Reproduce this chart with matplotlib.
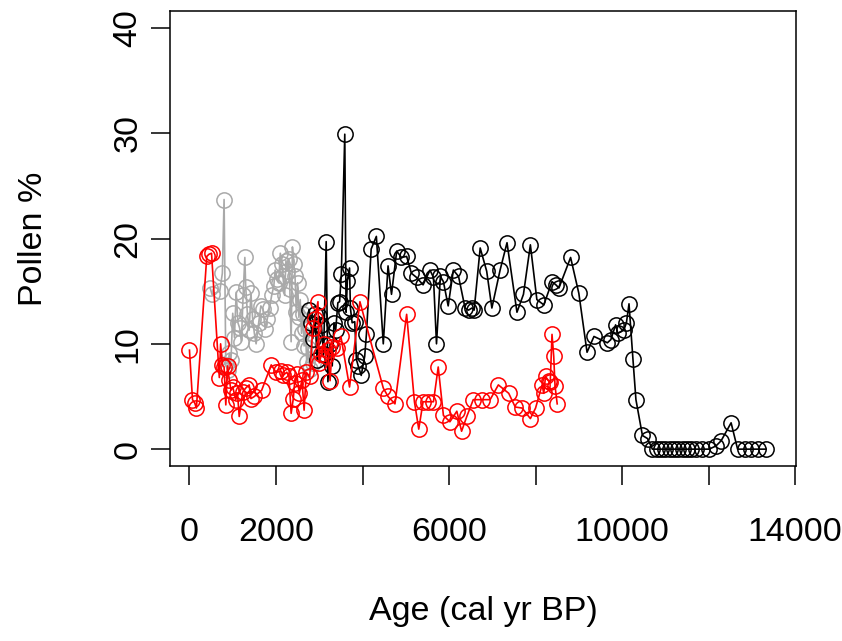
import numpy as np
import matplotlib
matplotlib.use("Agg")
import matplotlib.pyplot as plt

plt.rcParams['font.family'] = ['Liberation Sans', 'DejaVu Sans']

# Record 1 (black): long core
black_age = [2760, 2800, 2850, 2900, 2950, 3000, 3050, 3100, 3160, 3200,
             3250, 3300, 3340, 3380, 3430, 3470, 3510, 3590, 3620,
             3650, 3700, 3720, 3760, 3820, 3860, 3900, 3970, 4050, 4090,
             4200, 4320, 4480, 4590, 4670, 4790, 4900, 5020, 5130, 5250,
             5400, 5560, 5640, 5710, 5800, 5870, 5980, 6100, 6220, 6370,
             6450, 6530, 6580, 6720, 6870, 6990, 7180, 7340, 7570, 7720,
             7880, 8030, 8190, 8380, 8470, 8540, 8810, 9000, 9190, 9350,
             9660, 9740, 9850, 9900, 10040, 10100, 10160, 10250, 10320, 10470,
             10590, 10700, 10800, 10900, 11000, 11100, 11200, 11300, 11400, 11500,
             11600, 11700, 11850, 12010, 12170, 12290, 12520, 12670, 12830, 12980,
             13140, 13330]
black_pct = [13.2, 12.0, 10.5, 12.8, 8.5, 12.6, 11.8, 9.0, 19.7, 6.4,
             10.0, 7.9, 12.0, 11.3, 13.9, 14.0, 16.6, 29.9, 13.0,
             16.0, 17.2, 13.4, 12.0, 12.1, 8.5, 7.9, 7.0, 8.8, 10.9,
             19.0, 20.2, 10.0, 17.4, 14.7, 18.8, 18.2, 18.3, 16.7, 16.3,
             15.6, 17.0, 16.3, 10.0, 16.4, 15.9, 13.6, 17.0, 16.4, 13.4,
             13.2, 13.4, 13.2, 19.1, 16.9, 13.4, 17.0, 19.6, 13.0, 14.7,
             19.4, 14.2, 13.7, 15.9, 15.6, 15.3, 18.2, 14.8, 9.2, 10.7,
             10.1, 10.4, 11.8, 11.0, 11.3, 12.0, 13.8, 8.6, 4.7, 1.3,
             1.0, 0, 0, 0, 0, 0, 0, 0, 0, 0,
             0, 0, 0, 0, 0.3, 0.8, 2.5, 0, 0, 0,
             0, 0]

# Record 2 (grey): short, dense core
grey_age = [480, 520, 700, 760, 800, 840, 880, 920, 960, 1000,
            1040, 1080, 1120, 1160, 1200, 1240, 1280, 1300, 1340, 1380,
            1420, 1460, 1500, 1540, 1600, 1650, 1700, 1750, 1800, 1850,
            1900, 1950, 1980, 2020, 2060, 2100, 2130, 2160, 2200, 2230,
            2260, 2290, 2320, 2350, 2380, 2410, 2440, 2470, 2500, 2530,
            2560, 2590, 2620, 2650, 2680, 2710, 2740, 2780, 2820, 2860]
grey_pct = [15.3, 14.7, 15.0, 16.7, 23.7, 8.0, 7.5, 9.1, 8.5, 12.9,
            10.6, 14.9, 12.0, 11.5, 10.2, 14.6, 18.2, 15.4, 12.8, 11.3,
            14.8, 12.4, 11.0, 10.0, 12.0, 13.6, 13.3, 11.4, 12.4, 13.4,
            14.6, 15.5, 17.0, 16.2, 15.8, 18.6, 17.6, 16.4, 14.6, 17.9,
            16.9, 18.1, 15.2, 10.2, 19.2, 17.6, 16.4, 13.0, 15.8, 12.5,
            14.2, 11.0, 12.8, 9.8, 11.4, 8.3, 9.6, 7.6, 10.4, 8.2]

# Record 3 (red)
red_age = [0, 70, 120, 160, 400, 450, 510, 690, 720, 760,
           800, 840, 880, 920, 960, 1000, 1070, 1110, 1150, 1230,
           1300, 1380, 1420, 1500, 1670, 1890, 2000, 2120, 2160, 2250,
           2300, 2350, 2400, 2430, 2480, 2540, 2600, 2650, 2700, 2780,
           2850, 2900, 2970, 3000, 3050, 3100, 3150, 3200, 3250, 3300,
           3400, 3500, 3700, 3940, 4480, 4590, 4750, 5020, 5200, 5300,
           5400, 5520, 5640, 5750, 5870, 6020, 6180, 6290, 6410, 6560,
           6760, 6950, 7140, 7380, 7530, 7690, 7880, 8000, 8150, 8190,
           8230, 8300, 8340, 8380, 8420, 8450, 8500]
red_pct = [9.4, 4.7, 4.4, 3.9, 18.3, 18.5, 18.6, 6.8, 10.0, 8.0,
           7.8, 4.2, 7.9, 6.6, 5.6, 5.9, 4.7, 5.3, 3.1, 5.4,
           5.8, 6.1, 4.8, 5.0, 5.6, 8.0, 7.3, 7.4, 7.0, 7.3,
           6.9, 3.4, 4.8, 6.3, 7.1, 5.3, 6.6, 3.7, 7.3, 6.9,
           11.5, 12.4, 14.0, 8.2, 9.0, 10.0, 8.8, 9.4, 6.5, 9.7,
           9.6, 10.7, 5.9, 14.0, 5.8, 5.0, 4.3, 12.8, 4.5, 1.9,
           4.5, 4.5, 4.5, 7.8, 3.2, 2.6, 3.6, 1.7, 3.1, 4.7,
           4.7, 4.7, 6.1, 5.3, 4.0, 3.9, 2.9, 3.9, 6.1, 5.3,
           6.9, 6.5, 6.4, 10.9, 8.8, 6.0, 4.3]

xticks = [0, 2000, 4000, 6000, 8000, 10000, 12000, 14000]
xticklabels = ['0', '2000', '', '6000', '', '10000', '', '14000']
yticks = [0, 10, 20, 30, 40]

fig = plt.figure(figsize=(8.42, 6.41), dpi=100)
ax = fig.add_axes([170 / 842, 175 / 641, 626 / 842, 455 / 641])

style = dict(marker='o', markersize=11, markerfacecolor='none',
             linewidth=1.2, markeredgewidth=1.1)
ax.plot(grey_age, grey_pct, color='#a9a9a9', zorder=2, **style)
ax.plot(black_age, black_pct, color='black', zorder=3, **style)
ax.plot(red_age, red_pct, color='red', zorder=4, **style)

ax.set_xlim(-450, 14020)
ax.set_ylim(-1.6, 41.6)
ax.set_xticks(xticks)
ax.set_xticklabels(xticklabels)
ax.set_yticks(yticks)
ax.set_yticklabels([str(v) for v in yticks], rotation=90, va='center')

ax.tick_params(axis='both', direction='out', length=14, width=1.1,
               labelsize=24.5)
ax.tick_params(axis='x', pad=23)
ax.tick_params(axis='y', pad=5)
for s in ax.spines.values():
    s.set_linewidth(1.1)

ax.set_xlabel('Age (cal yr BP)', fontsize=24.5, labelpad=34)
ax.set_ylabel('Pollen %', fontsize=24.5, labelpad=46)

fig.savefig('out.png', dpi=100)
